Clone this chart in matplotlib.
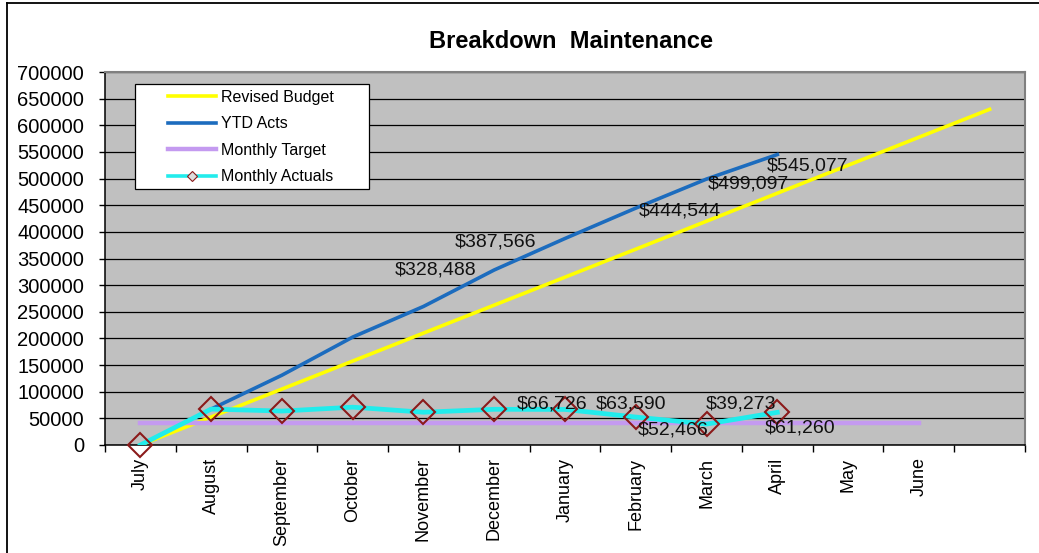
import matplotlib.pyplot as plt
import numpy as np
from matplotlib.lines import Line2D
from matplotlib.patches import Rectangle

plt.rcParams['font.family'] = ['Liberation Sans', 'DejaVu Sans']

# data (13 category slots, last one unlabeled)
months = ['July', 'August', 'September', 'October', 'November', 'December',
          'January', 'February', 'March', 'April', 'May', 'June', '']
revised_budget = [0, 52500, 105000, 157500, 210000, 262500, 315000,
                  367500, 420000, 472500, 525000, 577500, 630000]
ytd_acts = [np.nan, 67400, 131000, 202500, 260000, 328488, 387566,
            444544, 499097, 545077]
monthly_target = [42000] * 12
monthly_actuals = [0, 67400, 63700, 71000, 61500, 67000, 66726,
                   52466, 39273, 61260]

# data labels: (month index, text)
ytd_labels = [(5, '$328,488'), (6, '$387,566'), (7, '$444,544'),
              (8, '$499,097'), (9, '$545,077')]
actual_labels = [(6, '$66,726'), (7, '$63,590'), (7, '$52,466'),
                 (8, '$39,273'), (9, '$61,260')]
# label offsets in points (layout only)
ytd_offsets = [(-42, 0), (-50, -2.5), (32, -2), (30, -3.6), (22, -8)]
actual_offsets = [(-9, 4), (-3.6, 9.4), (27, -9.4), (24.5, 14.4), (16.5, -11)]

x = np.arange(len(months))

fig = plt.figure(figsize=(10.39, 5.53), dpi=100, facecolor='white')
ax = fig.add_axes([105 / 1039, 1 - 445 / 553, 920 / 1039, 373 / 553])
ax.set_facecolor('#c0c0c0')

# figure border (top + left, as in the screenshot)
fig.add_artist(Line2D([7 / 1039, 7 / 1039], [0, 1 - 3 / 553], color='black', lw=1.3))
fig.add_artist(Line2D([7 / 1039, 1], [1 - 3 / 553, 1 - 3 / 553], color='black', lw=1.3))

ax.plot(x[:len(revised_budget)], revised_budget, color='#ffff00', lw=2.6, zorder=3)
ax.plot(x[:len(ytd_acts)], ytd_acts, color='#1c6cbe', lw=2.6, zorder=3)
ax.plot(x[:len(monthly_target)], monthly_target, color='#c49af0', lw=3.2, zorder=3)
ax.plot(x[:len(monthly_actuals)], monthly_actuals, color='#22ecec', lw=3.4, zorder=4)
ax.plot(x[:len(monthly_actuals)], monthly_actuals, ls='none', marker='D', ms=12.5,
        mfc='none', mec='#8b1a1a', mew=1.5, zorder=5, clip_on=False)

for (i, t), off in zip(ytd_labels, ytd_offsets):
    ax.annotate(t, (x[i], ytd_acts[i]), xytext=off, textcoords='offset points',
                ha='center', va='center', fontsize=14, color='#111111', zorder=6)
for (i, t), off in zip(actual_labels, actual_offsets):
    ax.annotate(t, (x[i], monthly_actuals[i]), xytext=off, textcoords='offset points',
                ha='center', va='center', fontsize=14, color='#111111', zorder=6)

# axes
ax.set_xlim(-0.5, len(months) - 0.5)
ax.set_ylim(0, 700000)
ax.set_yticks(np.arange(0, 700001, 50000))
ax.set_yticklabels([str(v) for v in range(0, 700001, 50000)], fontsize=14.5)
ax.grid(axis='y', color='black', lw=0.9)
ax.set_axisbelow(True)

ax.set_xticks(np.arange(-0.5, len(months), 1.0))
ax.set_xticklabels([])
ax.set_xticks(x, minor=True)
ax.set_xticklabels(months, minor=True, rotation=90, fontsize=13, va='top', ha='center')
ax.tick_params(axis='x', which='major', length=5, width=1, color='black', direction='out')
ax.tick_params(axis='x', which='minor', length=0, pad=9)
ax.tick_params(axis='y', length=4, width=1, pad=11, color='black')

for s in ['left', 'bottom']:
    ax.spines[s].set_color('black')
    ax.spines[s].set_linewidth(1.1)
for s in ['top', 'right']:
    ax.spines[s].set_color('#808080')
    ax.spines[s].set_linewidth(1.5)

# legend box + entries
ax.add_patch(Rectangle((30 / 920, 256 / 373), 234 / 920, 105 / 373, transform=ax.transAxes,
                       facecolor='white', edgecolor='black', lw=0.9, zorder=7))
handles = [Line2D([], [], color='#ffff00', lw=2.6),
           Line2D([], [], color='#1c6cbe', lw=2.6),
           Line2D([], [], color='#c49af0', lw=3.2),
           Line2D([], [], color='#22ecec', lw=2.6, marker='D', ms=5,
                  mfc='#dddddd', mec='#8b1a1a', mew=0.8)]
labels = ['Revised Budget', 'YTD Acts', 'Monthly Target', 'Monthly Actuals']
leg = ax.legend(handles, labels, loc='upper left', bbox_to_anchor=(63 / 920, 355 / 373),
                frameon=False, fontsize=11.5, handlelength=3.0, handletextpad=0.3,
                labelspacing=0.72, borderpad=0, borderaxespad=0)
leg.set_zorder(8)

fig.text(571 / 1039, 1 - 41 / 553, 'Breakdown  Maintenance', ha='center', va='center',
         fontsize=17, fontweight='bold')

fig.savefig('out.png', dpi=100)
